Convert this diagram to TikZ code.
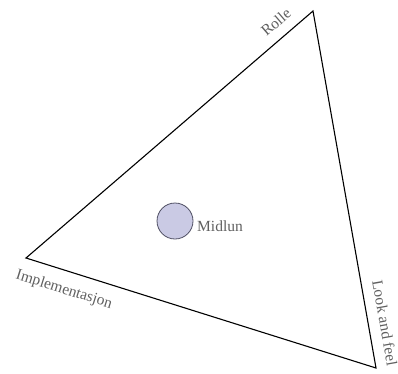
\documentclass[tikz,border=0pt]{standalone}
\usepackage{fontspec}
\setmainfont{Liberation Serif}
\definecolor{lbl}{RGB}{95,95,95}
\definecolor{dotfill}{RGB}{202,202,228}
\definecolor{dotline}{RGB}{80,80,100}
\begin{document}
\begin{tikzpicture}[x=1pt,y=-1pt,
  edge/.style={draw=black,line width=1.1pt},
  lab/.style={text=lbl,font=\fontsize{15.5}{17}\selectfont,inner sep=0pt}]
\useasboundingbox (0,0) rectangle (398,373);
\coordinate (T) at (313,11);
\coordinate (L) at (26,258);
\coordinate (B) at (376,368);
\draw[edge,line join=miter] (T) -- (L) -- (B) -- cycle;
\node[circle,draw=dotline,fill=dotfill,line width=0.8pt,minimum size=36pt,inner sep=0pt] (m) at (175,221) {};
\node[lab,anchor=west] (mt) at (197,226) {Midlun};
\node[lab,rotate=40.7] (r) at (276,22) {Rolle};
\node[lab,rotate=-17.4] (i) at (64,290) {Implementasjon};
\node[lab,rotate=-80] (lf) at (385,323) {Look and feel};
\end{tikzpicture}
\end{document}
